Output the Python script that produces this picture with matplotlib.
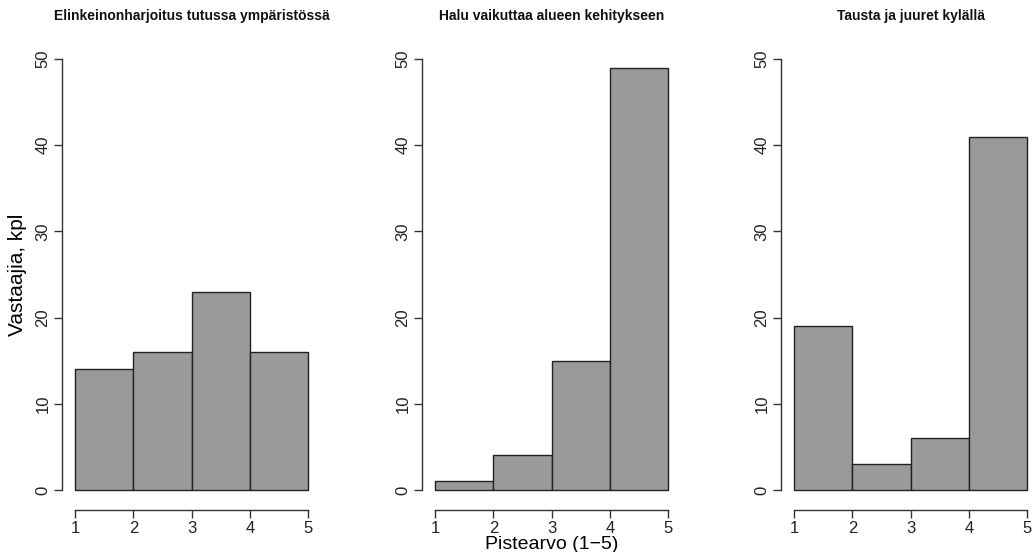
import numpy as np
import matplotlib.pyplot as plt

plt.rcParams['font.family'] = ['Liberation Sans', 'DejaVu Sans']

# histogram data (bins 1-2, 2-3, 3-4, 4-5)
bin_edges = [1, 2, 3, 4, 5]
titles = ["Elinkeinonharjoitus tutussa ympäristössä",
          "Halu vaikuttaa alueen kehitykseen",
          "Tausta ja juuret kylällä"]
counts_elinkeino = [14, 16, 23, 16]
counts_halu = [1, 4, 15, 49]
counts_tausta = [19, 3, 6, 41]
y_ticks = [0, 10, 20, 30, 40, 50]
x_ticks = [1, 2, 3, 4, 5]

all_counts = [counts_elinkeino, counts_halu, counts_tausta]

W, H = 1035, 552
fig = plt.figure(figsize=(W / 100, H / 100), dpi=100)

lefts = [65.7, 425.7, 784.7]
ax_w = 252.0
top_px, bot_px = 41.8, 507.2

for i, (left, counts, title) in enumerate(zip(lefts, all_counts, titles)):
	ax = fig.add_axes([left / W, 1 - bot_px / H, ax_w / W, (bot_px - top_px) / H])
	edges = np.array(bin_edges)
	ax.bar(edges[:-1], counts, width=np.diff(edges), align='edge',
	       color='#9a9a9a', edgecolor='#222222', linewidth=1.0)
	ax.set_xlim(0.84, 5.16)
	ax.set_ylim(-2, 52)
	for s in ['top', 'right']:
		ax.spines[s].set_visible(False)
	ax.spines['left'].set_bounds(0, 50)
	ax.spines['bottom'].set_bounds(1, 5)
	ax.spines['left'].set_position(('outward', 3))
	ax.spines['bottom'].set_position(('outward', 2))
	for s in ['left', 'bottom']:
		ax.spines[s].set_color('#333333')
		ax.spines[s].set_linewidth(1.0)
	ax.set_yticks(y_ticks)
	ax.set_xticks(x_ticks)
	ax.set_yticklabels([str(v) for v in y_ticks], rotation=90, va='center')
	ax.tick_params(axis='both', length=6, width=1.0, color='#333333',
	               labelsize=12, labelcolor='#222222', pad=2)
	ax.set_title(title, fontsize=10, fontweight='bold', pad=16, color='#111111')
	if i == 0:
		ax.set_ylabel("Vastaajia, kpl", fontsize=15, labelpad=6)
	if i == 1:
		ax.set_xlabel("Pistearvo (1\u22125)", fontsize=14, labelpad=0)

fig.savefig("out.png", dpi=100)
